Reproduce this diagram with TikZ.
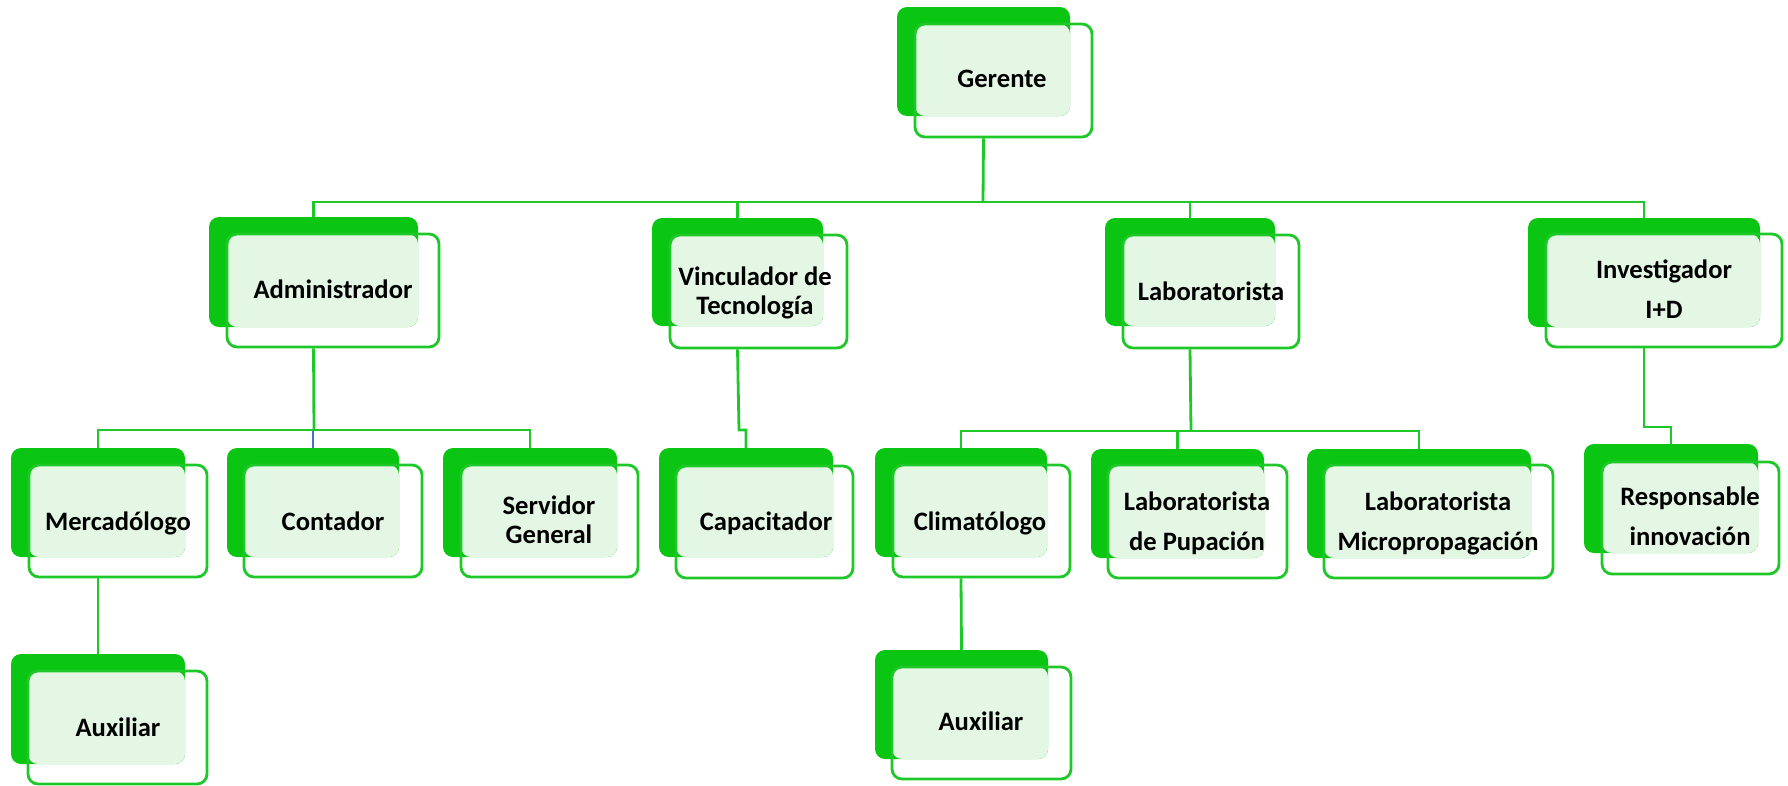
\documentclass[tikz,border=0pt]{standalone}
\usepackage{fontspec}
\setmainfont{Carlito}
\usetikzlibrary{fit}
\definecolor{dkg}{RGB}{10,198,18}
\definecolor{olg}{RGB}{30,200,40}
\definecolor{ltg}{RGB}{228,247,228}
\definecolor{bluel}{RGB}{68,114,196}
\tikzset{
  backbox/.style={fill=dkg, rounded corners=10pt, inner sep=0pt, draw=none},
  lightfill/.style={fill=ltg, rounded corners=10pt},
  frontbox/.style={draw=olg, line width=2.8pt, rounded corners=10pt, inner sep=0pt},
  lbl/.style={font=\bfseries\fontsize{26.6}{40}\selectfont, align=center, inner sep=0pt, anchor=base},
  lbltight/.style={lbl, font=\bfseries\fontsize{26.6}{29}\selectfont},
  conn/.style={draw=olg, line width=2.8pt},
  connb/.style={draw=bluel, line width=2.8pt}
}
\newcommand\orgunit[5]{%
  \node[backbox, fit={(#2) (#3)}] (#1B) {};
  \fill[lightfill] (#4) rectangle (#3);
  \node[frontbox, fit={(#4) (#5)}] (#1F) {};
}
\begin{document}
\begin{tikzpicture}[x=1pt,y=-1pt]
\useasboundingbox (0,0) rectangle (1788,785);
% boxes
\orgunit{ger}{897,7}{1070,116}{915,24}{1092,137}
\orgunit{adm}{209,217}{418,327}{227,234}{439,347}
\orgunit{vin}{652,218}{823,326}{670,235}{847,348}
\orgunit{lab}{1105,218}{1275,326}{1123,235}{1299,348}
\orgunit{inv}{1528,218}{1760,327}{1546,234}{1782,347}
\orgunit{mer}{11,448}{185,557}{29,465}{207,577}
\orgunit{con}{227,448}{399,557}{244,465}{422,577}
\orgunit{ser}{443,448}{617,557}{461,465}{638,577}
\orgunit{cap}{659,448}{833,557}{676,466}{853,578}
\orgunit{cli}{875,448}{1047,557}{893,465}{1070,577}
\orgunit{pup}{1091,449}{1264,558}{1108,465}{1287,578}
\orgunit{mic}{1307,449}{1531,558}{1324,465}{1553,578}
\orgunit{res}{1584,444}{1758,553}{1602,462}{1779,574}
\orgunit{axa}{11,654}{185,764}{28,671}{207,784}
\orgunit{axb}{875,650}{1048,759}{892,667}{1071,779}
% labels (anchor = baseline of the last line)
\node[lbl] (ger) at (1002,87) {Gerente};
\node[lbl] (adm) at (333,298) {Administrador};
\node[lbltight] (vin) at (755,314) {Vinculador de\\Tecnología};
\node[lbl] (lab) at (1211,300) {Laboratorista};
\node[lbl] (inv) at (1664,318) {Investigador\\I+D};
\node[lbl] (mer) at (118,530) {Mercadólogo};
\node[lbl] (con) at (333,530) {Contador};
\node[lbltight] (ser) at (549,543) {Servidor\\General};
\node[lbl] (cap) at (766,530) {Capacitador};
\node[lbl] (cli) at (980,530) {Climatólogo};
\node[lbl] (pup) at (1197,550) {Laboratorista\\de Pupación};
\node[lbl] (mic) at (1438,550) {Laboratorista\\Micropropagación};
\node[lbl] (res) at (1690,545) {Responsable\\innovación};
\node[lbl] (axa) at (118,736) {Auxiliar};
\node[lbl] (axb) at (981,730) {Auxiliar};
% connector buses
\coordinate (busa) at (983,202);
\coordinate (busb) at (314,430);
\coordinate (busc) at (739,430);
\coordinate (busd) at (1191,431);
\coordinate (buse) at (1644,427);
% connectors
\draw[conn] (gerB.south |- gerF.south) -- (busa);
\draw[conn] (admB.north) |- (busa) -| (invB.north);
\draw[conn] (vinB.north) -- (vinB.north |- busa);
\draw[conn] (labB.north) -- (labB.north |- busa);
\draw[connb] (conB.north) -- (conB.north |- busb);
\draw[conn] (admB.south |- admF.south) -- (busb);
\draw[conn] (merB.north) |- (busb) -| (serB.north);
\draw[conn] (vinB.south |- vinF.south) -- (busc) -| (capB.north);
\draw[conn] (labB.south |- labF.south) -- (busd);
\draw[conn] (cliB.north) |- (busd) -| (micB.north);
\draw[conn] (pupB.north) -- (pupB.north |- busd);
\draw[conn] (invB.south |- invF.south) -- (buse) -| (resB.north);
\draw[conn] (merB.south |- merF.south) -- (axaB.north);
\draw[conn] (cliB.south |- cliF.south) -- (axbB.north);
\end{tikzpicture}
\end{document}
